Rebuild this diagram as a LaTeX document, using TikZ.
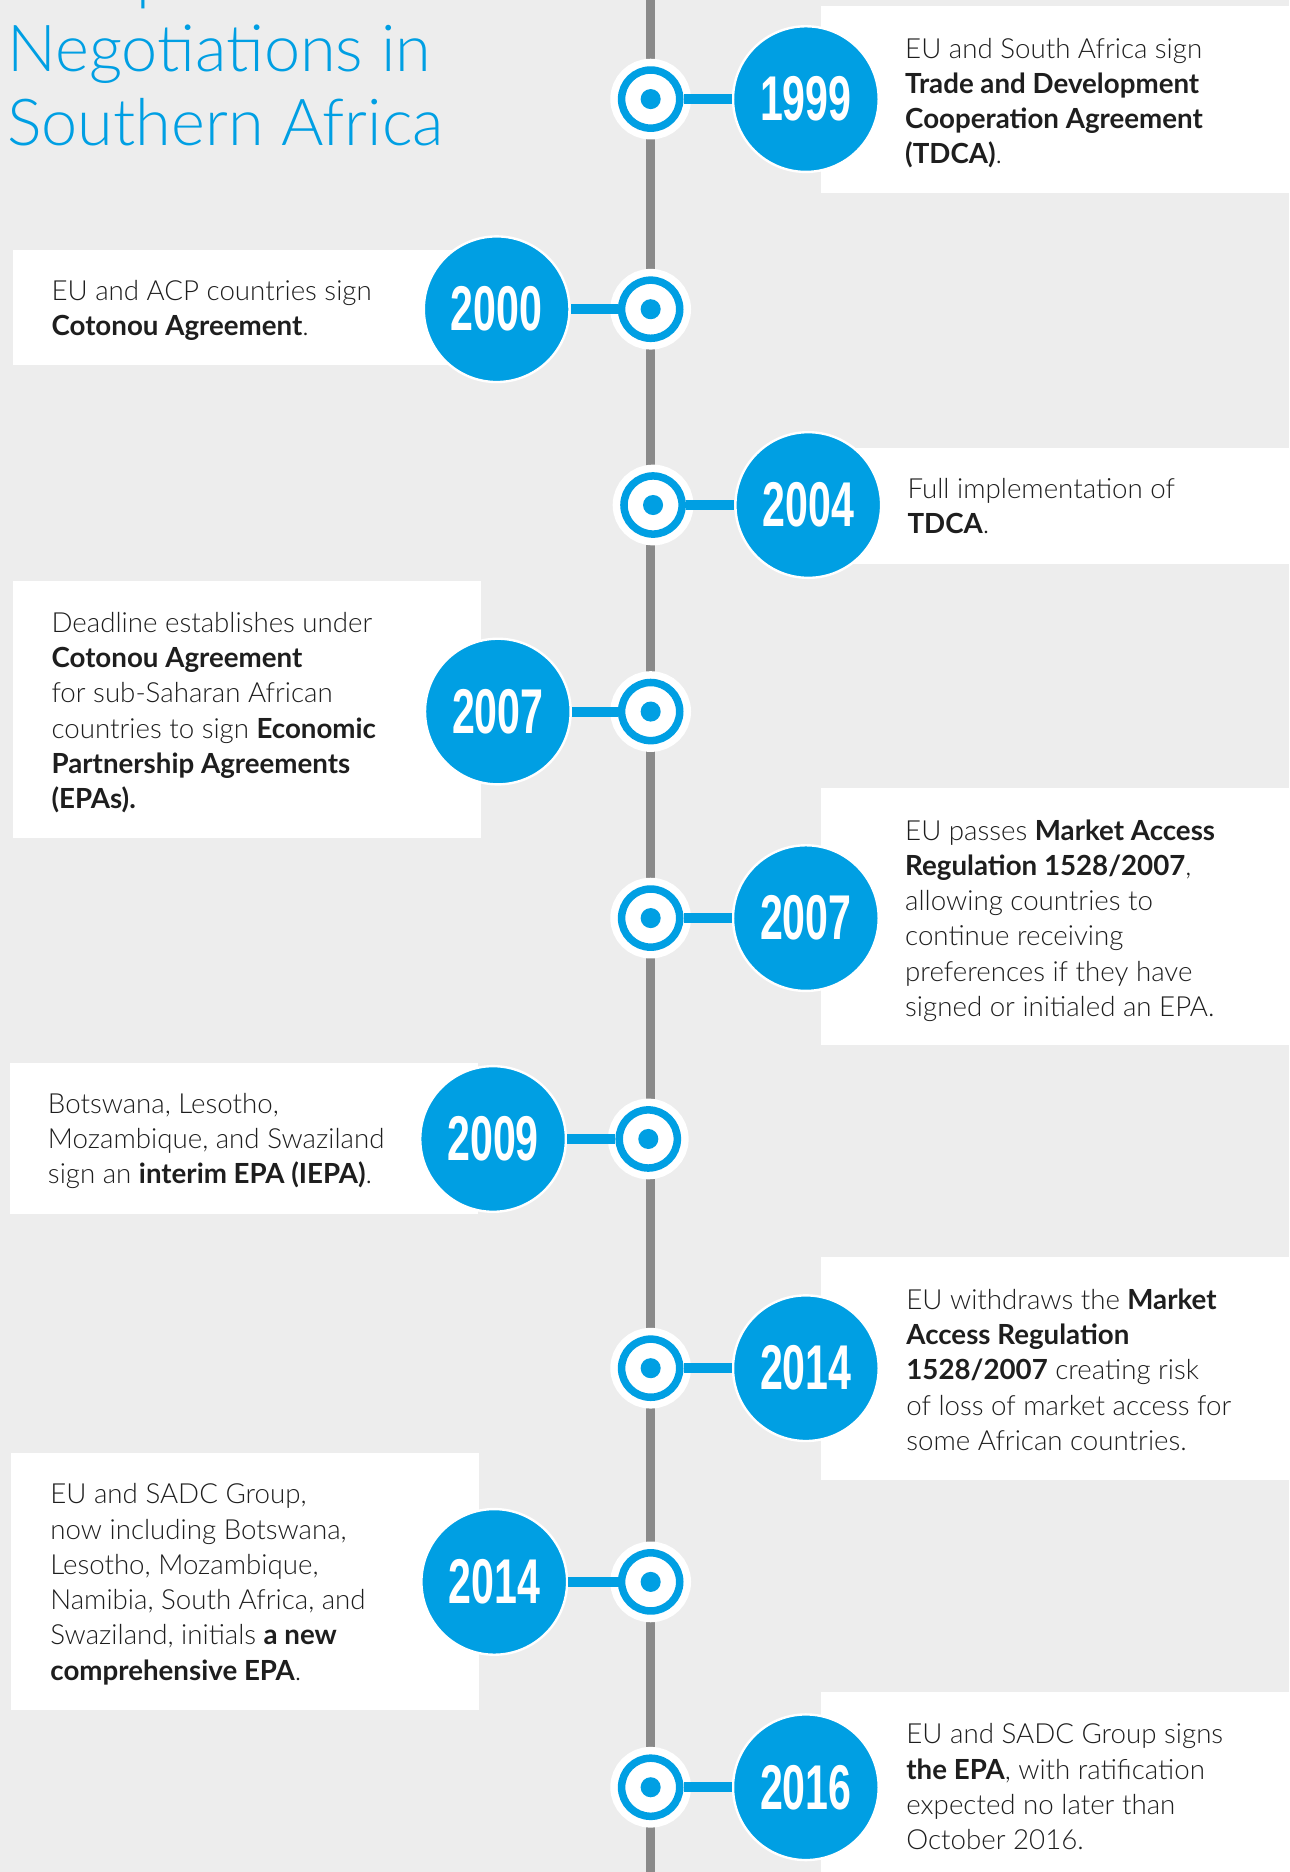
\documentclass[tikz,border=0pt]{standalone}
\usepackage{fontspec}
\usepackage{graphicx}
\usetikzlibrary{backgrounds}
\IfFontExistsTF{Lato Light}{\setmainfont{Lato Light}[BoldFont={Lato Bold}]}{\setmainfont{Lato}}
\newfontfamily\yearfont{Liberation Sans}
\IfFontExistsTF{Lato Light}{\newfontfamily\titlefont{Lato Light}}{\newfontfamily\titlefont{Lato}}
\definecolor{tlblue}{HTML}{009FE3}
\definecolor{tlgrey}{HTML}{8A8A8A}
\definecolor{tlbg}{HTML}{EDEDED}
\definecolor{tltext}{HTML}{1E1E1E}
\newcommand\yr[1]{\scalebox{0.65}[1]{\fontsize{53}{53}\selectfont\yearfont\bfseries #1}}
\newcommand\fl{\rule{0pt}{20pt}}
\begin{document}
\begin{tikzpicture}[x=1pt,y=-1pt,
  marker/.style={circle, fill=white, draw=tlblue, line width=6.3pt, minimum size=48.7pt, inner sep=0pt,
    preaction={draw=white, line width=18.9pt},
    path picture={\fill[tlblue] (path picture bounding box.center) circle[radius=8.4pt];}},
  yearc/.style={circle, fill=tlblue, draw=white, line width=2pt, minimum size=122pt, inner sep=0pt, text=white},
  conn/.style={draw=tlblue, line width=8.4pt},
  box/.style={fill=white},
  desc/.style={anchor=north west, inner sep=0pt, align=left, text=tltext, font=\fontsize{23.2}{29.5}\selectfont},
  ttl/.style={anchor=base west, inner sep=0pt, text=tlblue, font=\titlefont\fontsize{54.3}{62}\selectfont}
]
\useasboundingbox (0,0) rectangle (1080,1568);
\begin{scope}[on background layer]
  \fill[tlbg] (0,0) rectangle (1080,1568);
  \fill[box] (688,5) rectangle (1080,162);
  \fill[box] (11,209) rectangle (400,306);
  \fill[box] (688,375) rectangle (1080,472);
  \fill[box] (11,487) rectangle (403,702);
  \fill[box] (688,660) rectangle (1080,875);
  \fill[box] (8,890) rectangle (400,1017);
  \fill[box] (688,1053) rectangle (1080,1240);
  \fill[box] (9,1217) rectangle (401,1432);
  \fill[box] (688,1417) rectangle (1080,1568);
\end{scope}

% title
\node[ttl] (tp) at (114,-2) {p};
\node[ttl] (t1) at (6,59.5) {Negotiations in};
\node[ttl] (t2) at (6,122) {Southern Africa};

% markers
\node[marker] (m1) at (545,83) {};
\node[marker] (m2) at (545,259) {};
\node[marker] (m3) at (547,423) {};
\node[marker] (m4) at (545,596) {};
\node[marker] (m5) at (545,769) {};
\node[marker] (m6) at (543,954) {};
\node[marker] (m7) at (545,1146) {};
\node[marker] (m8) at (545,1325) {};
\node[marker] (m9) at (545,1497) {};

\coordinate (top) at (545,0);
\coordinate (bot) at (545,1568);
\begin{scope}[on background layer]
  \draw[tlgrey, line width=7.3pt] (top) -- (bot);
\end{scope}

% year circles
\node[yearc] (y1) at (675,83) {\yr{1999}};
\node[yearc] (y2) at (416,259) {\yr{2000}};
\node[yearc] (y3) at (677,423) {\yr{2004}};
\node[yearc] (y4) at (417,596) {\yr{2007}};
\node[yearc] (y5) at (675,769) {\yr{2007}};
\node[yearc] (y6) at (413,954) {\yr{2009}};
\node[yearc] (y7) at (675,1146) {\yr{2014}};
\node[yearc] (y8) at (414,1325) {\yr{2014}};
\node[yearc] (y9) at (675,1497) {\yr{2016}};

\draw[conn] (m1) -- (y1);
\draw[conn] (m2) -- (y2);
\draw[conn] (m3) -- (y3);
\draw[conn] (m4) -- (y4);
\draw[conn] (m5) -- (y5);
\draw[conn] (m6) -- (y6);
\draw[conn] (m7) -- (y7);
\draw[conn] (m8) -- (y8);
\draw[conn] (m9) -- (y9);

% descriptions
\node[desc] (d1) at (758,28.5) {\fl EU and South Africa sign\\\textbf{Trade and Development}\\\textbf{Cooperation Agreement}\\\textbf{(TDCA)}.};
\node[desc] (d2) at (43,231.5) {\fl EU and ACP countries sign\\\textbf{Cotonou Agreement}.};
\node[desc] (d3) at (760,397.5) {\fl Full implementation of\\\textbf{TDCA}.};
\node[desc] (d4) at (43,509.5) {\fl Deadline establishes under\\\textbf{Cotonou Agreement}\\for sub-Saharan African\\countries to sign \textbf{Economic}\\\textbf{Partnership Agreements}\\\textbf{(EPAs).}};
\node[desc] (d5) at (758,683.5) {\fl EU passes \textbf{Market Access}\\\textbf{Regulation 1528/2007},\\allowing countries to\\continue receiving\\preferences if they have\\signed or initialed an EPA.};
\node[desc] (d6) at (40,912.5) {\fl Botswana, Lesotho,\\Mozambique, and Swaziland\\sign an \textbf{interim EPA (IEPA)}.};
\node[desc] (d7) at (759,1076.5) {\fl EU withdraws the \textbf{Market}\\\textbf{Access Regulation}\\\textbf{1528/2007} creating risk\\of loss of market access for\\some African countries.};
\node[desc] (d8) at (42,1239.5) {\fl EU and SADC Group,\\now including Botswana,\\Lesotho, Mozambique,\\Namibia, South Africa, and\\Swaziland, initials \textbf{a new}\\\textbf{comprehensive EPA}.};
\node[desc] (d9) at (759,1440.5) {\fl EU and SADC Group signs\\\textbf{the EPA}, with ratification\\expected no later than\\October 2016.};
\end{tikzpicture}
\end{document}
